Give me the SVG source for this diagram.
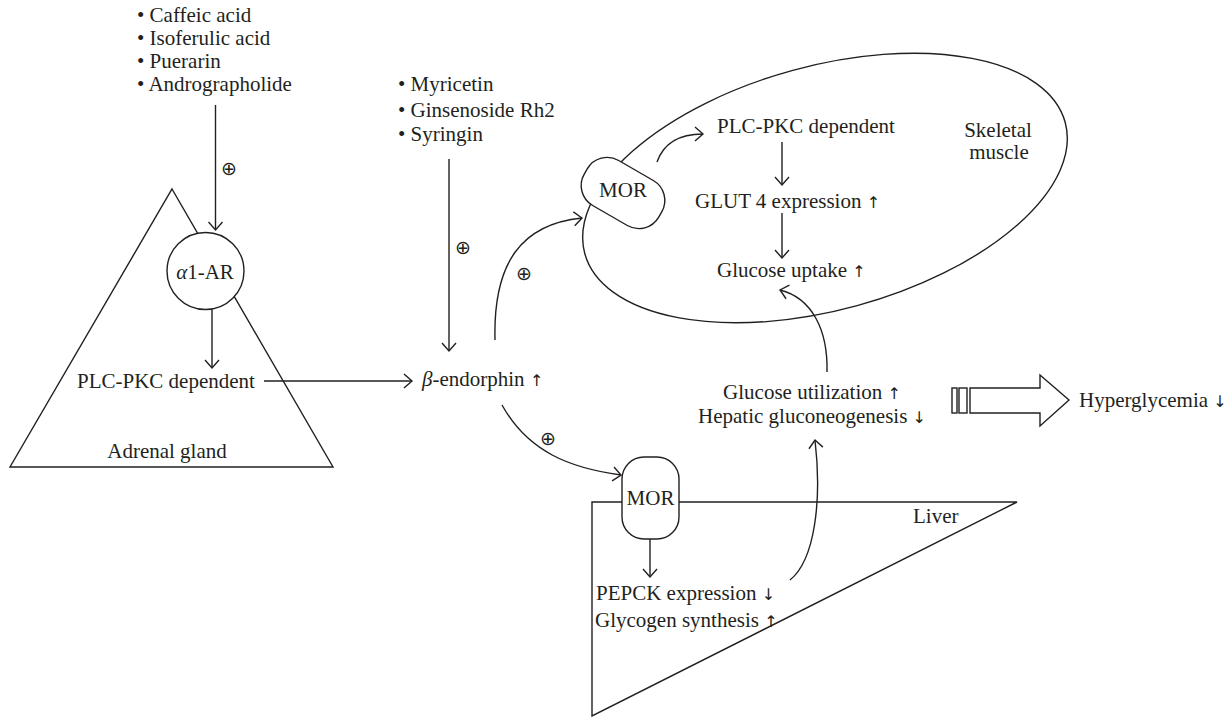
<svg xmlns="http://www.w3.org/2000/svg" width="1225" height="717" viewBox="0 0 1225 717">
<style>
text{font-family:"Liberation Serif","Times New Roman",serif;font-size:21px;fill:#231f20}
.plus{font-family:"DejaVu Sans",sans-serif;font-size:19px;text-anchor:middle}
.ar{font-family:"DejaVu Sans",sans-serif;font-size:16px}
.mid{text-anchor:middle}
.ln{fill:none;stroke:#231f20;stroke-width:1.4}
.shape{fill:#fff;stroke:#231f20;stroke-width:1.4}
.arr{fill:none;stroke:#231f20;stroke-width:1.4;marker-end:url(#ah)}
</style>
<defs>
<marker id="ah" viewBox="-10 -8 12 16" refX="0" refY="0" markerWidth="12" markerHeight="16" markerUnits="userSpaceOnUse" orient="auto">
<path d="M-8,-7 L0,0 L-8,7" fill="none" stroke="#231f20" stroke-width="1.4"/>
</marker>
</defs>
<rect width="1225" height="717" fill="#fff"/>

<g id="adrenal-gland">
<polygon class="shape" points="172,189 333,467 10,467"/>
<text x="167" y="458" class="mid">Adrenal gland</text>
</g>

<g id="skeletal-muscle">
<ellipse class="ln" cx="825" cy="188" rx="249" ry="122" transform="rotate(-15.3 825 188)"/>
<text x="998" y="137" class="mid">Skeletal</text>
<text x="999" y="159" class="mid">muscle</text>
</g>

<g id="liver">
<polygon class="shape" points="592,502 1017,502 592,716"/>
<text x="913" y="523">Liver</text>
</g>

<g id="connectors">
<path class="arr" d="M215.5,105 V230"/>
<path class="arr" d="M212,310 V368"/>
<path class="arr" d="M264,381 H412"/>
<path class="arr" d="M449,159 V351"/>
<path class="arr" d="M495,340 C493,262 522,224 582,218"/>
<path class="arr" d="M502,405 C528,452 570,468 621,475"/>
<path class="arr" d="M657,162 C664,142 680,134 703,134"/>
<path class="arr" d="M782,142 V185"/>
<path class="arr" d="M782,213 V258"/>
<path class="arr" d="M827,372 C828,330 812,298 780,290"/>
<path class="arr" d="M650,539 V577"/>
<path class="arr" d="M790,580 C815,560 822,500 815,440"/>
</g>

<g id="plus-signs">
<text class="plus" x="229" y="175">⊕</text>
<text class="plus" x="463" y="254">⊕</text>
<text class="plus" x="524" y="280">⊕</text>
<text class="plus" x="548" y="445">⊕</text>
</g>

<g id="compounds-1">
<text x="137" y="22">• Caffeic acid</text>
<text x="137" y="45">• Isoferulic acid</text>
<text x="137" y="68">• Puerarin</text>
<text x="137" y="91">• Andrographolide</text>
</g>

<g id="compounds-2">
<text x="398" y="91">• Myricetin</text>
<text x="398" y="117">• Ginsenoside Rh2</text>
<text x="398" y="141">• Syringin</text>
</g>

<g id="alpha1-ar">
<circle class="shape" cx="205.5" cy="271" r="38.5"/>
<text x="205" y="279" class="mid"><tspan font-style="italic">α</tspan>1-AR</text>
</g>

<g id="plc-pkc-adrenal">
<text x="77" y="388">PLC-PKC dependent</text>
</g>

<g id="beta-endorphin">
<text x="422" y="386"><tspan font-style="italic">β</tspan>-endorphin <tspan class="ar">↑</tspan></text>
</g>

<g id="mor-muscle">
<rect class="shape" x="580" y="167" width="86" height="52" rx="23" transform="rotate(30 623 193)"/>
<text x="623" y="197" class="mid">MOR</text>
</g>

<g id="plc-pkc-muscle">
<text x="717" y="133">PLC-PKC dependent</text>
</g>
<g id="glut4">
<text x="695" y="208">GLUT 4 expression <tspan class="ar">↑</tspan></text>
</g>
<g id="glucose-uptake">
<text x="717" y="277">Glucose uptake <tspan class="ar">↑</tspan></text>
</g>

<g id="glucose-utilization">
<text x="812" y="399" class="mid">Glucose utilization <tspan class="ar">↑</tspan></text>
<text x="812" y="423" class="mid">Hepatic gluconeogenesis <tspan class="ar">↓</tspan></text>
</g>

<g id="mor-liver">
<rect class="shape" x="622" y="457" width="57" height="82" rx="22"/>
<text x="650.5" y="505" class="mid">MOR</text>
</g>

<g id="pepck">
<text x="596" y="600">PEPCK expression <tspan class="ar">↓</tspan></text>
<text x="595" y="627">Glycogen synthesis <tspan class="ar">↑</tspan></text>
</g>

<g id="block-arrow">
<rect class="shape" x="952" y="388" width="5" height="25"/>
<rect class="shape" x="959" y="388" width="8" height="25"/>
<polygon class="shape" points="970,388 1040,388 1040,375 1069,400 1040,426 1040,413 970,413"/>
</g>

<g id="hyperglycemia">
<text x="1079" y="407">Hyperglycemia <tspan class="ar">↓</tspan></text>
</g>
</svg>
